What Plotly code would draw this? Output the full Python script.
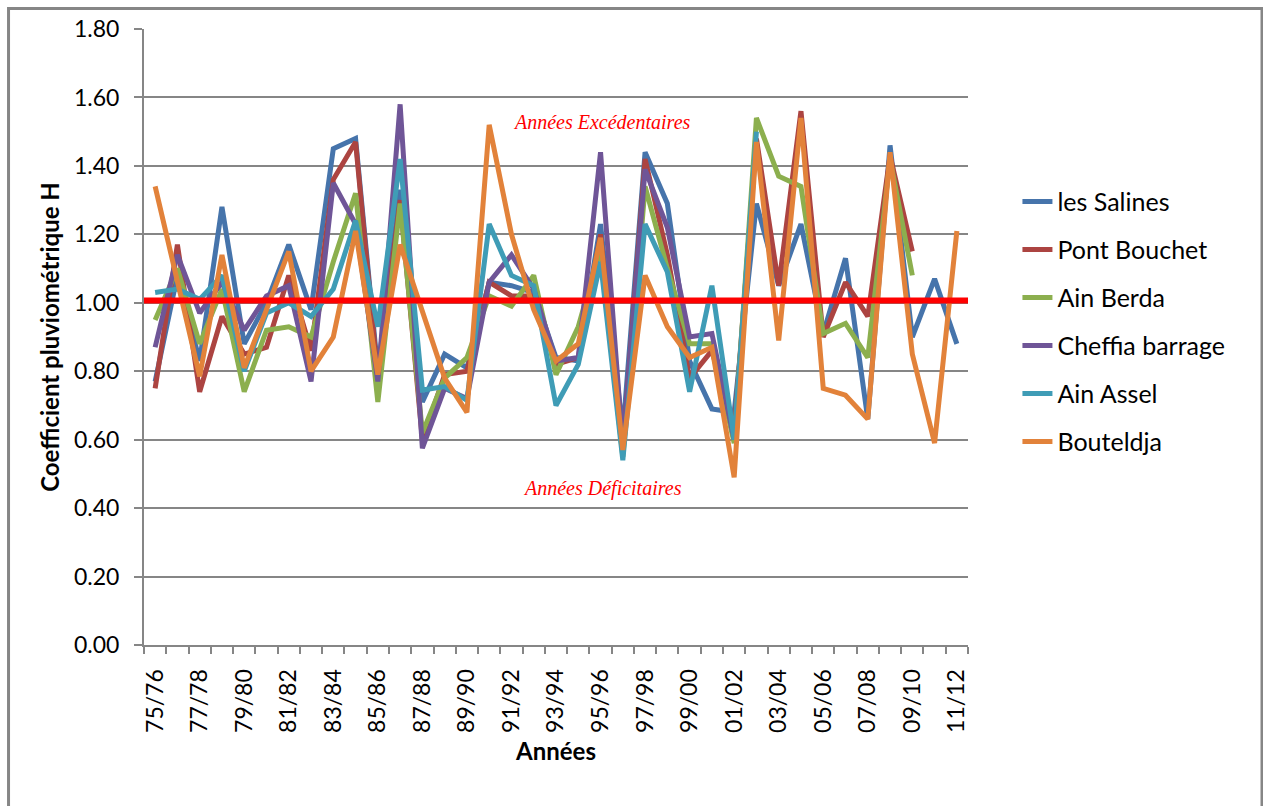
import plotly.graph_objects as go

# Hydrological years
annees = ["75/76", "76/77", "77/78", "78/79", "79/80", "80/81", "81/82", "82/83",
          "83/84", "84/85", "85/86", "86/87", "87/88", "88/89", "89/90", "90/91",
          "91/92", "92/93", "93/94", "94/95", "95/96", "96/97", "97/98", "98/99",
          "99/00", "00/01", "01/02", "02/03", "03/04", "04/05", "05/06", "06/07",
          "07/08", "08/09", "09/10", "10/11", "11/12"]

# Rainfall coefficient H per station
les_salines = [0.77, 1.08, 0.83, 1.28, 0.88, 1.00, 1.17, 0.98, 1.45, 1.48, 0.80, 1.33,
               0.71, 0.85, 0.81, 1.06, 1.05, 1.03, 0.84, 0.83, 1.23, 0.62, 1.44, 1.29,
               0.83, 0.69, 0.68, 1.29, 1.05, 1.23, 0.91, 1.13, 0.66, 1.46, 0.90, 1.07, 0.88]
pont_bouchet = [0.75, 1.17, 0.74, 0.96, 0.85, 0.87, 1.08, 0.86, 1.36, 1.47, 0.78, 1.30,
                0.60, 0.79, 0.80, 1.06, 1.02, 1.02, 0.82, 0.84, 1.20, 0.57, 1.42, 1.14,
                0.78, 0.86, 0.62, 1.48, 1.05, 1.56, 0.90, 1.06, 0.96, 1.43, 1.15, None, None]
ain_berda = [0.95, 1.10, 0.88, 1.04, 0.74, 0.92, 0.93, 0.90, 1.12, 1.32, 0.71, 1.29,
             0.62, 0.78, 0.84, 1.02, 0.99, 1.08, 0.79, 0.93, 1.16, 0.55, 1.34, 1.10,
             0.88, 0.88, 0.59, 1.54, 1.37, 1.34, 0.91, 0.94, 0.84, 1.42, 1.08, None, None]
cheffia_barrage = [0.87, 1.14, 0.97, 1.06, 0.92, 1.02, 1.05, 0.77, 1.35, 1.23, 0.77, 1.58,
                   0.575, 0.75, 0.72, 1.06, 1.14, 1.04, 0.83, 0.84, 1.44, 0.58, 1.39, 1.22,
                   0.90, 0.91, 0.60, None, None, None, None, None, None, None, None, None, None]
ain_assel = [1.03, 1.04, 1.01, 1.08, 0.80, 0.97, 1.00, 0.96, 1.04, 1.24, 0.93, 1.42,
             0.745, 0.755, 0.715, 1.23, 1.08, 1.05, 0.70, 0.82, 1.12, 0.54, 1.23, 1.09,
             0.74, 1.05, 0.60, 1.50, None, None, None, None, None, None, None, None, None]
bouteldja = [1.34, 1.06, 0.785, 1.14, 0.81, 0.98, 1.15, 0.80, 0.90, 1.21, 0.79, 1.17,
             0.97, 0.78, 0.68, 1.52, 1.20, 0.98, 0.83, 0.88, 1.19, 0.57, 1.08, 0.93,
             0.84, 0.87, 0.49, 1.47, 0.89, 1.54, 0.75, 0.73, 0.66, 1.44, 0.85, 0.59, 1.21]

series = [
    ("les Salines", les_salines, "#4674AB"),
    ("Pont Bouchet", pont_bouchet, "#AC4441"),
    ("Ain Berda", ain_berda, "#8CAF4E"),
    ("Cheffia barrage", cheffia_barrage, "#6F5597"),
    ("Ain Assel", ain_assel, "#3F9CB6"),
    ("Bouteldja", bouteldja, "#E2823A"),
]

seuil = 1.007
y_ticks = [0.0, 0.2, 0.4, 0.6, 0.8, 1.0, 1.2, 1.4, 1.6, 1.8]

x = list(range(len(annees)))
grey = "#868686"
base_font = "Lato, 'Open Sans', sans-serif"

fig = go.Figure()
for i, (name, vals, color) in enumerate(series):
    fig.add_trace(go.Scatter(
        x=x, y=vals, name=name, mode="lines",
        line=dict(color=color, width=5),
        connectgaps=False, legendgroup=f"g{i}",
    ))

# Threshold line H = 1
fig.add_shape(type="line", xref="paper", x0=0, x1=1, yref="y", y0=seuil, y1=seuil,
              line=dict(color="#FF0000", width=6), layer="above")

# Outer frame of the chart area
fig.add_shape(type="rect", xref="paper", yref="paper",
              x0=-0.1644, x1=1.3568, y0=-0.32, y1=1.0333,
              line=dict(color=grey, width=3), fillcolor="rgba(0,0,0,0)")

fig.add_annotation(text="<i>Années Excédentaires</i>", xref="paper", yref="y",
                   x=0.556, y=1.528, showarrow=False,
                   font=dict(family="'Liberation Serif', serif", size=20, color="#FF0000"))
fig.add_annotation(text="<i>Années Déficitaires</i>", xref="paper", yref="y",
                   x=0.556, y=0.456, showarrow=False,
                   font=dict(family="'Liberation Serif', serif", size=20, color="#FF0000"))

fig.update_layout(
    width=1263, height=806,
    margin=dict(l=144, r=295, t=29, b=161),
    paper_bgcolor="white", plot_bgcolor="white",
    font=dict(family=base_font, size=23, color="black"),
    showlegend=True,
    legend=dict(x=1.06, xanchor="left", y=0.757, yanchor="top",
                font=dict(family=base_font, size=25, color="black"),
                tracegroupgap=12.5, bgcolor="rgba(0,0,0,0)"),
    xaxis=dict(
        range=[-0.5, len(annees) - 0.5],
        tickmode="array", tickvals=x[::2], ticktext=annees[::2],
        tickangle=-90, ticks="", showgrid=False,
        showline=True, linecolor=grey, linewidth=2,
        minor=dict(tickmode="linear", tick0=-0.5, dtick=1, ticks="outside",
                   ticklen=7, tickcolor=grey, tickwidth=2, showgrid=False),
        ticklabelstandoff=13,
        title=dict(text="<b>Années</b>", font=dict(size=24), standoff=11),
        zeroline=False,
    ),
    yaxis=dict(
        range=[0, 1.8], tickmode="array", tickvals=y_ticks,
        ticktext=[f"{v:.2f}" for v in y_ticks],
        showgrid=True, gridcolor=grey, gridwidth=2,
        showline=True, linecolor=grey, linewidth=2,
        ticks="outside", ticklen=8, tickcolor=grey, tickwidth=2,
        ticklabelstandoff=10,
        title=dict(text="<b>Coefficient pluviométrique H</b>", font=dict(size=24), standoff=8),
        zeroline=False,
    ),
)

fig.write_html("out.html")
